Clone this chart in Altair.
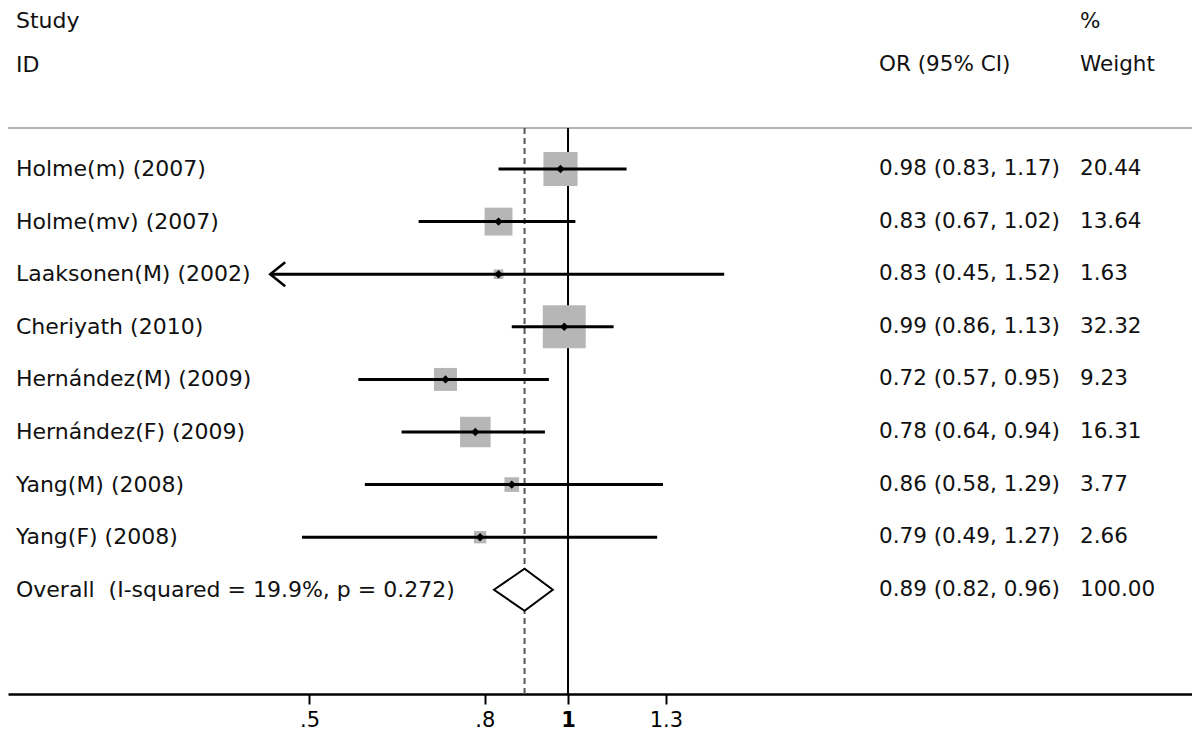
import altair as alt
import pandas as pd

# ---------------- data ----------------
studies = ["Holme(m) (2007)", "Holme(mv) (2007)", "Laaksonen(M) (2002)", "Cheriyath (2010)",
           "Hernández(M) (2009)", "Hernández(F) (2009)", "Yang(M) (2008)", "Yang(F) (2008)"]
or_est = [0.98, 0.83, 0.83, 0.99, 0.72, 0.78, 0.86, 0.79]
ci_low = [0.83, 0.67, 0.45, 0.86, 0.57, 0.64, 0.58, 0.49]
ci_high = [1.17, 1.02, 1.52, 1.13, 0.95, 0.94, 1.29, 1.27]
weights = [20.44, 13.64, 1.63, 32.32, 9.23, 16.31, 3.77, 2.66]
arrow_left = [False, False, True, False, False, False, False, False]

overall_label = "Overall\u00a0 (I-squared = 19.9%, p = 0.272)"
overall_est = 0.89
overall_low = 0.82
overall_high = 0.96
overall_weight = 100.00

tick_values = [0.5, 0.8, 1.0, 1.3]
tick_labels = [".5", ".8", "1", "1.3"]

header_left = ["Study", "ID"]
header_or = "OR (95% CI)"
header_weight = ["%", "Weight"]

# ---------------- tables ----------------
rows = list(range(len(studies)))
df = pd.DataFrame({
    "row": rows,
    "label": studies,
    "est": or_est,
    "lo": ci_low,
    "hi": ci_high,
    "weight": weights,
    "arrow": arrow_left,
})
df["or_text"] = [f"{e:.2f} ({l:.2f}, {h:.2f})" for e, l, h in zip(or_est, ci_low, ci_high)]
df["w_text"] = [f"{w:.2f}" for w in weights]

orow = len(studies)
ov = pd.DataFrame({
    "row": [orow],
    "label": [overall_label],
    "est": [overall_est],
    "or_text": [f"{overall_est:.2f} ({overall_low:.2f}, {overall_high:.2f})"],
    "w_text": [f"{overall_weight:.2f}"],
})
half_h = 0.40
diamond = pd.DataFrame({
    "x": [overall_low, overall_est, overall_high],
    "y": [orow, orow - half_h, orow],
    "y2": [orow, orow + half_h, orow],
})
texts = pd.concat([df[["row", "label", "or_text", "w_text"]], ov[["row", "label", "or_text", "w_text"]]])
ref = pd.DataFrame({"v": [1.0]})

# ---------------- scales / axis ----------------
W, H = 1184, 686
x_scale = alt.Scale(type="log", domain=[0.2228, 5.328], nice=False, zero=False)
y_scale = alt.Scale(domain=[-3.061, 9.981], reverse=True, nice=False, zero=False)

label_expr = " : ".join(
    [f"datum.value == {v} ? '{t}'" for v, t in zip(tick_values[:-1], tick_labels[:-1])]
) + f" : '{tick_labels[-1]}'"

x_axis = alt.Axis(
    values=tick_values, labelExpr=label_expr, title=None, grid=False,
    tickSize=10, tickWidth=2, tickColor="black",
    domainColor="black", domainWidth=2.5,
    labelFont="DejaVu Sans", labelFontSize=21, labelColor="black", labelPadding=5,
    labelFlush=False, labelOverlap=False,
    labelFontWeight={"condition": {"test": "datum.value == 1", "value": "bold"}, "value": "normal"},
)

def X(field):
    return alt.X(f"{field}:Q", scale=x_scale, axis=x_axis)

def Y(field):
    return alt.Y(f"{field}:Q", scale=y_scale, axis=None)

FONT = "DejaVu Sans"
TXT = "#111111"

# ---------------- layers ----------------
top_line = alt.Chart(ref).mark_rule(color="#b4b4b4", strokeWidth=2).encode(
    x=alt.value(0), x2=alt.value(W), y=alt.value(120)
)
ref_line = alt.Chart(ref).mark_rule(color="black", strokeWidth=2).encode(
    x=X("v"), y=alt.value(120), y2=alt.value(H)
)
dash_line = alt.Chart(ov).mark_rule(color="#555555", strokeWidth=2, strokeDash=[6, 4]).encode(
    x=X("est"), y=alt.value(120), y2=alt.value(H)
)
boxes = alt.Chart(df).mark_square(color="#b6b6b6", opacity=1).encode(
    x=X("est"), y=Y("row"),
    size=alt.Size("weight:Q", scale=alt.Scale(domain=[0, 100], range=[0, 5700]), legend=None),
)
ci = alt.Chart(df).mark_rule(color="black", strokeWidth=3).encode(
    x=X("lo"), x2="hi:Q", y=Y("row")
)
arrows = alt.Chart(df).transform_filter("datum.arrow").mark_point(
    shape="M1,-0.8L0,0L1,0.8", filled=False, size=900, strokeWidth=2.5, color="black", opacity=1
).encode(x=X("lo"), y=Y("row"))
points = alt.Chart(df).mark_point(shape="diamond", filled=True, color="black", size=70, opacity=1).encode(
    x=X("est"), y=Y("row")
)
diam = alt.Chart(diamond).mark_area(fill="white", stroke="black", strokeWidth=2, opacity=1).encode(
    x=X("x"), y=Y("y"), y2="y2:Q"
)

name_txt = alt.Chart(texts).mark_text(
    align="left", baseline="middle", font=FONT, fontSize=22, color=TXT
).encode(x=alt.value(8), y=Y("row"), text="label:N")
or_txt = alt.Chart(texts).mark_text(
    align="left", baseline="middle", font=FONT, fontSize=21.5, color=TXT
).encode(x=alt.value(871), y=Y("row"), text="or_text:N")
w_txt = alt.Chart(texts).mark_text(
    align="left", baseline="middle", font=FONT, fontSize=21.5, color=TXT
).encode(x=alt.value(1072), y=Y("row"), text="w_text:N")

def header(txt, x, y, size, baseline="middle"):
    return alt.Chart(ref).mark_text(
        align="left", baseline=baseline, font=FONT, fontSize=size, color=TXT, text=txt
    ).encode(x=alt.value(x), y=alt.value(y))

headers = [
    header(header_left[0], 8, 3, 22, "top"),
    header(header_left[1], 8, 57, 22),
    header(header_or, 871, 57, 21.5),
    header(header_weight[0], 1072, 3, 21.5, "top"),
    header(header_weight[1], 1072, 57, 21.5),
]

chart = alt.layer(
    top_line, ref_line, dash_line, boxes, ci, arrows, points, diam,
    name_txt, or_txt, w_txt, *headers
).properties(
    width=W, height=H,
    autosize=alt.AutoSizeParams(type="none"),
    padding={"left": 0, "top": 0, "right": 0, "bottom": 37},
    background="white",
).configure_view(stroke=None)

chart.save("out.html", embed_options={"renderer": "svg", "actions": False})
